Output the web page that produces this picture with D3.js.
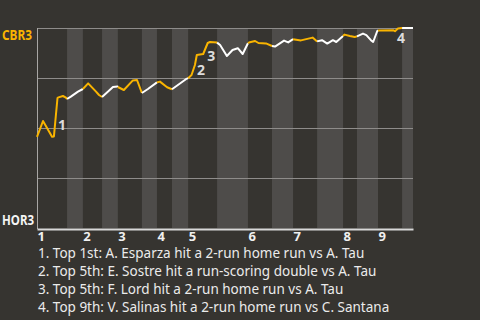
<!DOCTYPE html>
<html>
<head>
<meta charset="utf-8">
<script src="https://cdn.jsdelivr.net/npm/d3@7"></script>
<style>
  body { margin: 0; background: #363430; }
  svg { display: block; font-family: "Noto Sans", sans-serif; }
</style>
</head>
<body>
<div id="chart"></div>
<script>
// teams: top of the chart = away win, bottom = home win
const teams = ["CBR3", "HOR3"];
const innings = ["1", "2", "3", "4", "5", "6", "7", "8", "9"];

// where each half-inning starts, in % of the game
const halfStarts = [0, 8.0, 12.2, 17.3, 21.5, 27.9, 31.9, 35.9, 40.2, 47.9,
  56.1, 62.5, 68.1, 74.5, 81.4, 85.1, 90.7, 97.1];

// game progress (%) and CBR3 win probability (%)
const progress = [0, 1.6, 4.0, 4.5, 5.45, 5.7, 6.9, 7.7, 8.0, 9.0, 10.9, 12.2,
  13.6, 15.7, 16.5, 17.3, 18.9, 20.2, 21.4, 21.5, 23.1, 25.5, 26.6, 27.9, 29.5,
  31.9, 32.7, 34.6, 35.9, 39.6, 40.2, 41.1, 42.0, 42.5, 44.2, 45.4, 46.0, 47.9,
  48.7, 50.5, 52.0, 53.4, 54.7, 56.1, 56.6, 58.0, 58.9, 60.9, 62.5, 63.3, 65.7,
  66.8, 68.1, 70.2, 73.3, 74.5, 75.8, 77.2, 78.7, 79.6, 81.4, 81.8, 83.2, 84.5,
  85.1, 86.7, 87.6, 88.8, 89.4, 90.5, 90.7, 94.7, 95.2, 96.0, 97.1, 100];
const winProb = [45.6, 53.5, 45.6, 45.8, 65.0, 65.3, 66.0, 65.2, 64.5, 65.7,
  68.2, 69.5, 72.3, 68.2, 66.5, 65.5, 68.2, 70.5, 70.8, 70.5, 69.0, 73.8, 74.0,
  67.5, 69.5, 72.8, 73.2, 70.4, 69.4, 74.4, 74.9, 76.5, 81.5, 86.5, 87.0, 92.5,
  93.0, 92.7, 91.5, 86.0, 89.0, 89.9, 87.0, 92.4, 92.9, 93.5, 92.5, 92.3, 91.0,
  90.7, 93.7, 92.8, 94.4, 93.8, 95.2, 93.3, 93.9, 92.2, 93.9, 93.0, 96.0, 96.7,
  96.0, 95.5, 95.8, 97.2, 96.4, 93.9, 93.0, 98.5, 98.8, 98.9, 98.4, 99.7, 100, 100];

// key plays: index of the point the label hangs on
const eventPoints = [3, 32, 34, 72];
const eventText = [
  "1. Top 1st: A. Esparza hit a 2-run home run vs A. Tau",
  "2. Top 5th: E. Sostre hit a run-scoring double vs A. Tau",
  "3. Top 5th: F. Lord hit a 2-run home run vs A. Tau",
  "4. Top 9th: V. Salinas hit a 2-run home run vs C. Santana"
];

const width = 480;
const height = 320;
const margin = { top: 28, right: 67, bottom: 92, left: 37 };
const orange = "#f9b400";

const svg = d3.select("#chart")
  .append("svg")
  .attr("width", width)
  .attr("height", height);

const x = d3.scaleLinear()
  .domain([0, 100])
  .range([margin.left, width - margin.right]);

const y = d3.scaleLinear()
  .domain([0, 100])
  .range([height - margin.bottom, margin.top]);

// shaded bottom halves
const halves = halfStarts.map((s, i) => ({ s, e: halfStarts[i + 1] ?? 100, i }));
svg.selectAll("rect.band")
  .data(halves.filter(d => d.i % 2 === 1))
  .enter()
  .append("rect")
  .attr("class", "band")
  .attr("x", d => x(d.s))
  .attr("y", y(100))
  .attr("width", d => x(d.e) - x(d.s))
  .attr("height", y(0) - y(100))
  .attr("fill", "#4e4c4a");

// gridlines
svg.selectAll("line.grid")
  .data([25, 50, 75, 100])
  .enter()
  .append("line")
  .attr("x1", x(0))
  .attr("x2", x(100))
  .attr("y1", d => Math.round(y(d)) + 0.5)
  .attr("y2", d => Math.round(y(d)) + 0.5)
  .attr("stroke", "#8e8c8a")
  .attr("stroke-width", 1);

svg.append("line")
  .attr("x1", x(0) + 0.5)
  .attr("x2", x(0) + 0.5)
  .attr("y1", y(100))
  .attr("y2", y(0) + 1)
  .attr("stroke", "#a8a6a4");

// x axis: inning numbers at the start of each top half
const topStarts = halfStarts.filter((d, i) => i % 2 === 0);
const xAxis = svg.append("g")
  .attr("transform", `translate(0,${y(0) + 1})`)
  .call(d3.axisBottom(x)
    .tickValues(topStarts)
    .tickFormat((d, i) => innings[i])
    .tickSize(0)
    .tickSizeOuter(0)
    .tickPadding(3));
xAxis.select(".domain").attr("stroke", "#d8d8d8").attr("stroke-width", 2);
xAxis.selectAll("text")
  .attr("text-anchor", "start")
  .attr("dy", "0.72em")
  .attr("fill", "#f0f0f0")
  .attr("font-size", 13)
  .attr("font-weight", "bold")
  .attr("font-family", "\"Noto Sans\", sans-serif");

// win probability line, coloured by which team is batting
const pts = progress.map((p, i) => ({ p, w: winProb[i] }));
const line = d3.line().x(d => x(d.p)).y(d => y(d.w));
halves.forEach(h => {
  const seg = pts.filter(d => d.p >= h.s - 1e-6 && d.p <= h.e + 1e-6);
  svg.append("path")
    .datum(seg)
    .attr("d", line)
    .attr("fill", "none")
    .attr("stroke", h.i % 2 === 0 ? orange : "#ffffff")
    .attr("stroke-width", 2)
    .attr("stroke-linejoin", "round");
});

// event markers
const labelOffset = [[4, -6], [2, 10], [4, 7], [2, 12]];
svg.selectAll("text.ev")
  .data(eventPoints)
  .enter()
  .append("text")
  .attr("x", (d, i) => x(progress[d]) + labelOffset[i][0])
  .attr("y", (d, i) => y(winProb[d]) + labelOffset[i][1])
  .attr("fill", "#dcdcdc")
  .attr("font-size", 14)
  .attr("font-weight", "bold")
  .text((d, i) => i + 1);

// team labels
svg.append("text")
  .attr("x", 2)
  .attr("y", 40)
  .attr("fill", orange)
  .attr("font-size", 14)
  .attr("font-weight", "bold")
  .attr("textLength", 30)
  .attr("lengthAdjust", "spacingAndGlyphs")
  .text(teams[0]);
svg.append("text")
  .attr("x", 2)
  .attr("y", 225)
  .attr("fill", "#f4f4f4")
  .attr("font-size", 14)
  .attr("font-weight", "bold")
  .attr("textLength", 32)
  .attr("lengthAdjust", "spacingAndGlyphs")
  .text(teams[1]);

// event list
svg.selectAll("text.list")
  .data(eventText)
  .enter()
  .append("text")
  .attr("x", 38)
  .attr("y", (d, i) => 258 + i * 18)
  .attr("fill", "#ebebeb")
  .attr("font-size", 13.5)
  .text(d => d);
</script>
</body>
</html>
